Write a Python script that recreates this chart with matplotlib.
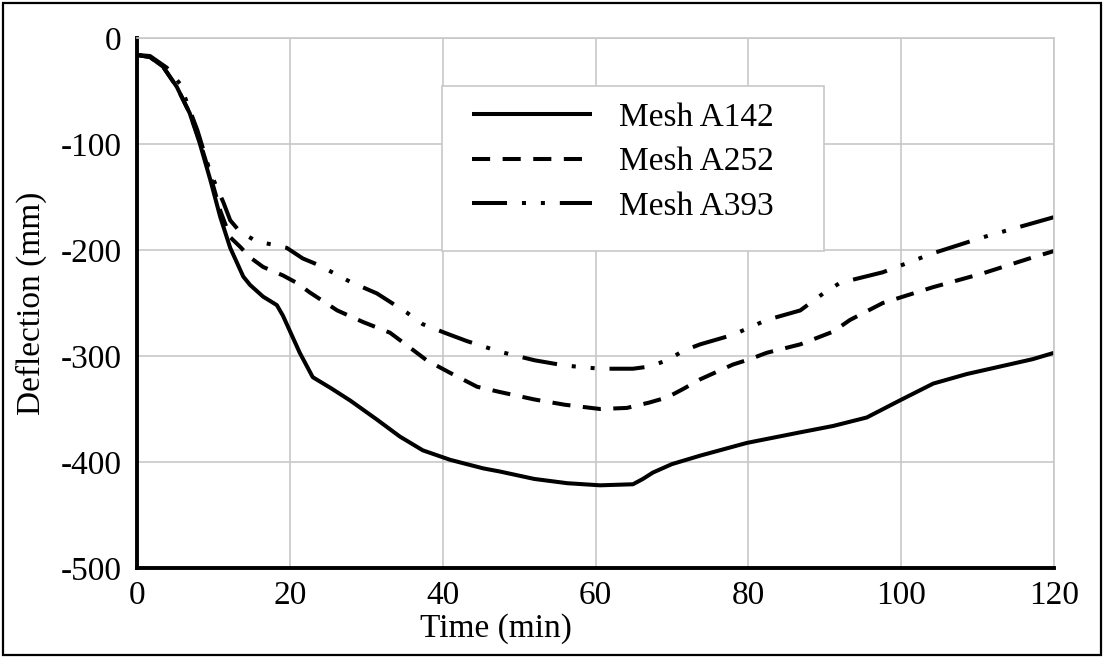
import matplotlib.pyplot as plt
from matplotlib.patches import Rectangle

# ---- data ----
t_a142 = [0, 1.7, 3.4, 5.2, 6.9, 8.2, 9.6, 10.9, 12.2, 13.9, 14.8, 16.5, 18.3, 19.1,
          21.3, 23.0, 25.3, 27.9, 31.4, 34.4, 37.4, 41.0, 45.3, 47.5, 52, 56.3, 60.6,
          64.9, 66.2, 67.5, 70, 73.7, 79.8, 86.8, 91.1, 95.5, 99.8, 104.2, 108.6,
          117.2, 120]
d_a142 = [-16, -18, -27, -46, -71, -99, -134, -169, -198, -225, -233, -244, -252,
          -262, -297, -320, -330, -342, -360, -376, -389, -398, -406, -409, -416,
          -420, -422, -421, -416, -410, -402, -394, -382, -372, -366, -358, -342,
          -326, -317, -303, -297]

t_a252 = [0, 1.7, 3.4, 5.2, 6.9, 8.2, 9.6, 10.9, 12.2, 13.5, 14.8, 16.5, 19.1, 20.9,
          22.6, 26.2, 29.6, 33.1, 35.7, 37.9, 41.0, 44.5, 47.5, 52, 56, 60.6, 64.1,
          67, 69.4, 71.5, 73.7, 78, 80.2, 82.4, 86.8, 91.1, 93.3, 97.6, 104.2, 110.7,
          117.2, 120]
d_a252 = [-16, -18, -27, -46, -71, -97, -130, -163, -188, -197, -207, -216, -224,
          -231, -240, -257, -268, -278, -292, -304, -316, -329, -334, -341, -346,
          -350, -349, -344, -339, -331, -322, -308, -303, -297, -289, -277, -266,
          -250, -235, -222, -207, -201]

t_a393 = [0, 1.7, 3.9, 5.6, 7.9, 9.6, 11.3, 12.2, 13.5, 15.7, 17.8, 19.6, 21.7, 23.7,
          27.9, 31.4, 35.3, 37.4, 40.6, 43.2, 47.5, 52, 56, 60.6, 64.9, 67, 69.4,
          71.5, 73.7, 78, 80.2, 82.4, 86.8, 89.8, 92, 97.6, 104.2, 110.7, 120]
d_a393 = [-16, -17, -28, -43, -87, -127, -155, -172, -183, -192, -195, -198, -208,
          -214, -230, -241, -259, -270, -279, -286, -296, -304, -309, -312, -312,
          -310, -304, -295, -289, -280, -273, -266, -257, -241, -231, -221, -203,
          -188, -169]

labels = ["Mesh A142", "Mesh A252", "Mesh A393"]
x_ticks = [0, 20, 40, 60, 80, 100, 120]
y_ticks = [-500, -400, -300, -200, -100, 0]

plt.rcParams['font.family'] = ['Liberation Serif', 'DejaVu Serif']
plt.rcParams['axes.unicode_minus'] = False

fig = plt.figure(figsize=(11.04, 6.61), dpi=100)
ax = fig.add_axes([137 / 1104, 1 - 568 / 661, 917 / 1104, 530 / 661])

lw = 2.9
ax.plot(t_a142, d_a142, color='black', lw=lw, solid_capstyle='butt',
        solid_joinstyle='round', label=labels[0])
ax.plot(t_a252, d_a252, color='black', lw=lw, linestyle=(0, (4.5, 3.1)),
        dash_capstyle='butt', label=labels[1])
ax.plot(t_a393, d_a393, color='black', lw=lw,
        linestyle=(0, (8.7, 3.7, 1.0, 3.7, 1.0, 3.7)), dash_capstyle='butt',
        label=labels[2])

ax.set_xlim(0, 120)
ax.set_ylim(-500, 0)
ax.set_xticks(x_ticks)
ax.set_yticks(y_ticks)
ax.grid(True, color='#c8c8c8', lw=1.2)
ax.set_axisbelow(True)
ax.tick_params(length=0, labelsize=24)
ax.tick_params(axis='y', pad=11)
ax.tick_params(axis='x', pad=9)

for s in ['top', 'right']:
    ax.spines[s].set_color('#c8c8c8')
    ax.spines[s].set_linewidth(1.2)
for s in ['left', 'bottom']:
    ax.spines[s].set_color('black')
    ax.spines[s].set_linewidth(2.8)

ax.set_xlabel("Time (min)", fontsize=24)
ax.set_ylabel("Deflection (mm)", fontsize=24)
ax.xaxis.set_label_coords(0.391, -0.085)
ax.yaxis.set_label_coords(-0.098, 0.5)

# legend frame like the Excel box (with extra space at the bottom)
ax.add_patch(Rectangle((0.333, 0.598), 0.416, 0.311, transform=ax.transAxes,
                       facecolor='white', edgecolor='#c8c8c8', lw=1.2, zorder=5))
leg = ax.legend(loc='upper left', bbox_to_anchor=(0.333, 0.935), frameon=False,
                fontsize=24, handlelength=3.6, handletextpad=0.8,
                labelspacing=0.42, borderaxespad=0.2, borderpad=0.7)
leg.set_zorder(6)

# outer border of the picture
fig.add_artist(Rectangle((3 / 1104, 6 / 661), 1098 / 1104, 652 / 661,
                         transform=fig.transFigure, fill=False,
                         edgecolor='black', lw=1.6))

fig.savefig("out.png", dpi=100)
